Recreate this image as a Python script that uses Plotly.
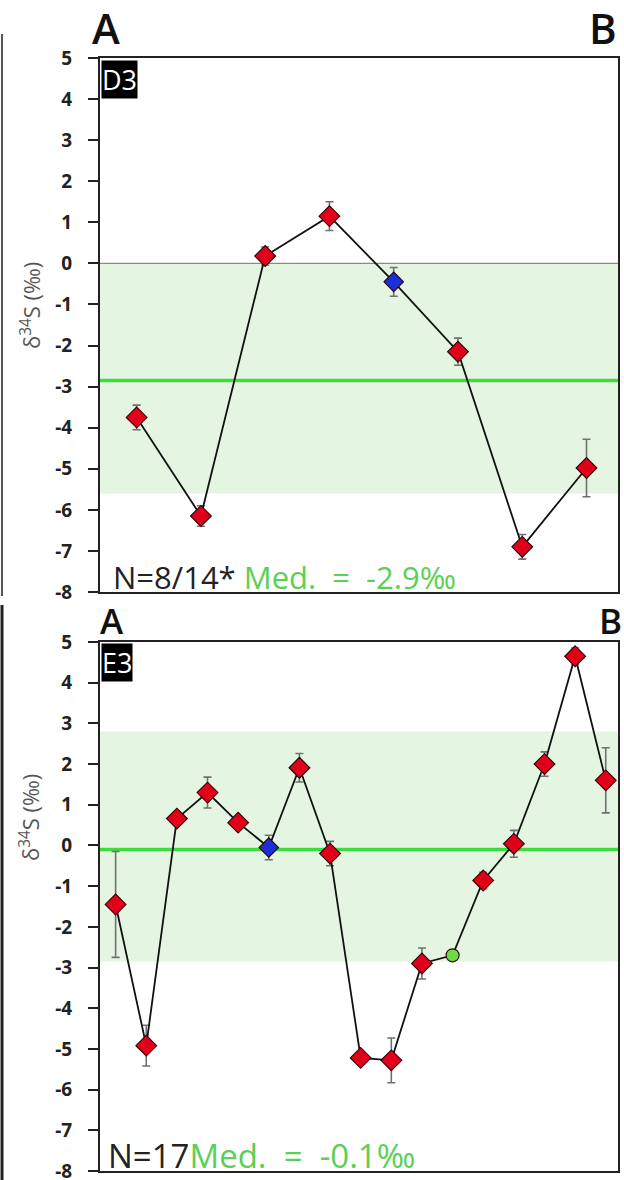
import plotly.graph_objects as go

# ---------------- data ----------------
d3_x = [1, 2, 3, 4, 5, 6, 7, 8]
d3_y = [-3.75, -6.15, 0.18, 1.15, -0.45, -2.15, -6.9, -4.98]
d3_err = [0.3, 0.25, 0.22, 0.35, 0.35, 0.33, 0.3, 0.7]
d3_kind = ["red", "red", "red", "red", "blue", "red", "red", "red"]
d3_median = -2.85
d3_band = [-5.6, 0.0]

e3_x = list(range(1, 18))
e3_y = [-1.45, -4.92, 0.66, 1.3, 0.56, -0.05, 1.91, -0.2, -5.22, -5.28,
        -2.9, -2.7, -0.86, 0.04, 2.0, 4.65, 1.6]
e3_err = [1.3, 0.5, 0.1, 0.38, 0.12, 0.3, 0.35, 0.3, 0.15, 0.55,
          0.38, 0.0, 0.2, 0.33, 0.3, 0.2, 0.8]
e3_kind = ["red"] * 5 + ["blue"] + ["red"] * 5 + ["green"] + ["red"] * 5
e3_median = -0.1
e3_band = [-2.85, 2.8]

y_ticks = [5, 4, 3, 2, 1, 0, -1, -2, -3, -4, -5, -6, -7, -8]
y_ticktext = [str(v) if v >= 0 else "-" + str(-v) for v in y_ticks]

W, H = 624, 1180
fill = {"red": "#e0001a", "blue": "#1a2fd8", "green": "#6fdc45"}
symb = {"red": "diamond", "blue": "diamond", "green": "circle"}
size = {"red": 16, "blue": 15, "green": 13}

fig = go.Figure()


def add_panel(xs, ys, errs, kinds, xa, ya):
    fig.add_trace(go.Scatter(
        x=xs, y=ys, mode="lines+markers", xaxis=xa, yaxis=ya,
        line=dict(color="#111", width=1.8),
        marker=dict(color=[fill[k] for k in kinds],
                    symbol=[symb[k] for k in kinds],
                    size=[size[k] for k in kinds],
                    opacity=1,
                    line=dict(color="#2a0505", width=1.1)),
        error_y=dict(type="data", array=errs, color="#707070",
                     thickness=1.6, width=4),
        showlegend=False, hoverinfo="skip"))


add_panel(d3_x, d3_y, d3_err, d3_kind, "x", "y")
add_panel(e3_x, e3_y, e3_err, e3_kind, "x2", "y2")


def px_y(p):
    return 1 - p / H


def px_x(p):
    return p / W


axis_common = dict(showgrid=False, zeroline=False, showline=True,
                   linecolor="#222", linewidth=2, mirror=True)
yaxis_common = dict(axis_common, tickmode="array", tickvals=y_ticks,
                    ticktext=y_ticktext, ticks="outside", ticklen=10,
                    tickwidth=2, tickcolor="#222", range=[-8, 5],
                    ticklabelstandoff=12, automargin=False,
                    ticklabeloverflow="allow",
                    tickfont=dict(family="Open Sans", size=19, color="#222",
                                  weight="bold"))
xaxis_common = dict(axis_common, showticklabels=False, ticks="", automargin=False)

fig.update_layout(
    width=W, height=H, margin=dict(l=0, r=0, t=0, b=0, pad=0),
    plot_bgcolor="white", paper_bgcolor="white",
    xaxis=dict(xaxis_common, domain=[px_x(100), px_x(618)], range=[0.43, 8.49], anchor="y"),
    yaxis=dict(yaxis_common, domain=[px_y(592), px_y(58)], anchor="x"),
    xaxis2=dict(xaxis_common, domain=[px_x(100), px_x(618)], range=[0.49, 17.4], anchor="y2"),
    yaxis2=dict(yaxis_common, domain=[px_y(1171), px_y(642)], anchor="x2"),
)

shapes = []
# bands
shapes.append(dict(type="rect", xref="x domain", yref="y", x0=0, x1=1,
                   y0=d3_band[0], y1=d3_band[1], fillcolor="#e4f6e2",
                   line=dict(width=0), layer="below"))
shapes.append(dict(type="rect", xref="x2 domain", yref="y2", x0=0, x1=1,
                   y0=e3_band[0], y1=e3_band[1], fillcolor="#e4f6e2",
                   line=dict(width=0), layer="below"))
# zero line (top panel)
shapes.append(dict(type="line", xref="x domain", yref="y", x0=0, x1=1,
                   y0=0, y1=0, line=dict(color="#8a8a8a", width=1.2), layer="below"))
# median lines
shapes.append(dict(type="line", xref="x domain", yref="y", x0=0, x1=1,
                   y0=d3_median, y1=d3_median, line=dict(color="#3ddc3d", width=3.5),
                   layer="below"))
shapes.append(dict(type="line", xref="x2 domain", yref="y2", x0=0, x1=1,
                   y0=e3_median, y1=e3_median, line=dict(color="#3ddc3d", width=3.5),
                   layer="below"))
# left edge crop lines
shapes.append(dict(type="line", xref="paper", yref="paper", x0=px_x(2), x1=px_x(2),
                   y0=px_y(34), y1=px_y(596), line=dict(color="#555", width=2)))
shapes.append(dict(type="line", xref="paper", yref="paper", x0=px_x(2), x1=px_x(2),
                   y0=px_y(605), y1=px_y(1180), line=dict(color="#222", width=3)))
fig.update_layout(shapes=shapes)

ann = []
big = dict(family="Open Sans", color="#111", weight=600)
ann.append(dict(text="A", x=px_x(90), y=px_y(28), xref="paper", yref="paper",
                xanchor="left", yanchor="middle", showarrow=False, font=dict(big, size=42)))
ann.append(dict(text="B", x=px_x(619), y=px_y(28), xref="paper", yref="paper",
                xanchor="right", yanchor="middle", showarrow=False, font=dict(big, size=42)))
ann.append(dict(text="A", x=px_x(98), y=px_y(620), xref="paper", yref="paper",
                xanchor="left", yanchor="middle", showarrow=False, font=dict(big, size=35)))
ann.append(dict(text="B", x=px_x(624), y=px_y(620), xref="paper", yref="paper",
                xanchor="right", yanchor="middle", showarrow=False, font=dict(big, size=35)))
# panel tags
ann.append(dict(text="D3", x=px_x(101), y=px_y(60), xref="paper", yref="paper",
                xanchor="left", yanchor="top", showarrow=False, bgcolor="#000",
                borderpad=0, font=dict(family="Open Sans", size=27, color="white")))
ann.append(dict(text="E3", x=px_x(101), y=px_y(643), xref="paper", yref="paper",
                xanchor="left", yanchor="top", showarrow=False, bgcolor="#000",
                borderpad=0, font=dict(family="Open Sans", size=27, color="white")))
# y titles
for yc in (306, 818):
    ann.append(dict(text="δ<sup>34</sup>S (‰)", x=px_x(30), y=px_y(yc), xref="paper",
                    yref="paper", xanchor="center", yanchor="middle", textangle=-90,
                    showarrow=False, font=dict(family="Open Sans", size=22, color="#555")))
# N / median text
green = "#5ccf55"
nb = "\u00a0"
ann.append(dict(text="N=8/14*%s<span style='color:%s'>Med.%s=%s-2.9‰</span>" % (nb, green, nb * 2, nb * 2),
                x=px_x(111), y=px_y(577), xref="paper", yref="paper", xanchor="left",
                yanchor="middle", showarrow=False,
                font=dict(family="Open Sans", size=31, color="#222")))
ann.append(dict(text="N=17<span style='color:%s'>Med.%s=%s-0.1‰</span>" % (green, nb * 2, nb * 2),
                x=px_x(106), y=px_y(1155), xref="paper", yref="paper", xanchor="left",
                yanchor="middle", showarrow=False,
                font=dict(family="Open Sans", size=33, color="#222")))
fig.update_layout(annotations=ann)

fig.write_html(
    "out.html",
    config={"displayModeBar": False},
    post_script="document.body.style.margin='0';document.body.style.overflow='hidden';"
                "document.documentElement.style.overflow='hidden';",
)
